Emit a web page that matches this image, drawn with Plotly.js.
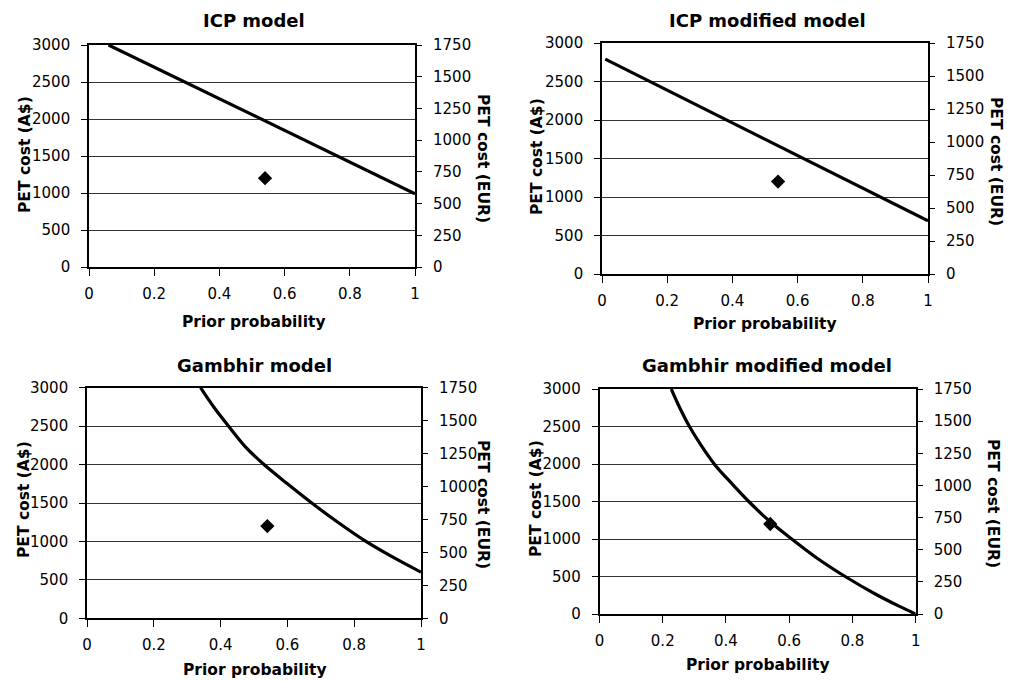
<!DOCTYPE html>
<html>
<head>
<meta charset="utf-8">
<script src="https://cdn.plot.ly/plotly-3.0.1.min.js"></script>
<style>html,body{margin:0;padding:0;background:#fff;}#chart{width:1015px;height:681px;}</style>
</head>
<body>
<div id="chart"></div>
<script>
// ---- data ----
const panelTitles = ["ICP model", "ICP modified model", "Gambhir model", "Gambhir modified model"];
const xTitle = "Prior probability";
const yLeftTitle = "PET cost (A$)";
const yRightTitle = "PET cost (EUR)";

const icpX = [0.06, 1.0];
const icpY = [3000, 990];

const icpModX = [0.01, 1.0];
const icpModY = [2790, 690];

const gambhirX = [0.34, 0.38, 0.424, 0.475, 0.53, 0.60, 0.673, 0.75, 0.835, 0.92, 1.0];
const gambhirY = [3000, 2746, 2500, 2228, 2000, 1750, 1500, 1252, 1000, 785, 600];

const gambhirModX = [0.227, 0.253, 0.2845, 0.3215, 0.364, 0.4165, 0.472, 0.538, 0.608, 0.685, 0.777, 0.875, 0.949, 1.0];
const gambhirModY = [3000, 2757, 2500, 2248, 1995, 1748, 1500, 1236, 1000, 754, 500, 260, 101, 0];

const pointX = [0.54];
const pointY = [1200];

const xTickVals = [0, 0.2, 0.4, 0.6, 0.8, 1];
const yLeftRange = [0, 3000];
const yRightRange = [0, 1750];

// ---- layout geometry (pixels) ----
const W = 1015, H = 681;
const boxes = [
  {l: 89,  r: 415,   t: 45,    b: 267},
  {l: 602, r: 928,   t: 43,    b: 274},
  {l: 87,  r: 421,   t: 387.7, b: 618.3},
  {l: 599.5, r: 915.7, t: 389, b: 614}
];
const titlePos = [[254, 20], [767, 20], [254, 366], [767, 366]];
const xTitlePos = [[254, 322], [765, 324], [255, 670], [758, 665]];
const yLTitlePos = [[25, 155], [537, 157], [24, 500], [536, 499]];
const yRTitlePos = [[483, 158], [996, 161], [483, 504], [993, 503]];

const series = [[icpX, icpY], [icpModX, icpModY], [gambhirX, gambhirY], [gambhirModX, gambhirModY]];

const tickFont = {family: "DejaVu Sans", size: 15, color: "#000"};
const boldFont = (s) => ({family: "DejaVu Sans", size: s, color: "#000", weight: "bold"});

const traces = [];
const layout = {
  width: W, height: H,
  margin: {l: 0, r: 0, t: 0, b: 0},
  paper_bgcolor: "#fff", plot_bgcolor: "#fff",
  showlegend: false,
  annotations: []
};

function fx(px) { return px / W; }
function fy(py) { return 1 - py / H; }

for (let i = 0; i < 4; i++) {
  const n = i + 1;
  const xa = n === 1 ? "x" : "x" + n;
  const ya = n === 1 ? "y" : "y" + n;
  const yr = "y" + (n + 4);
  const bx = boxes[i];

  traces.push({
    x: series[i][0], y: series[i][1], xaxis: xa, yaxis: ya,
    type: "scatter", mode: "lines",
    line: {color: "#000", width: 3.2, shape: i >= 2 ? "spline" : "linear", smoothing: 1},
    hoverinfo: "skip"
  });
  traces.push({
    x: pointX, y: pointY, xaxis: xa, yaxis: ya,
    type: "scatter", mode: "markers",
    marker: {symbol: "diamond", size: 11, color: "#000"},
    hoverinfo: "skip"
  });

  layout["xaxis" + (n === 1 ? "" : n)] = {
    domain: [fx(bx.l), fx(bx.r)],
    anchor: ya,
    range: [0, 1],
    tickvals: xTickVals,
    ticks: "outside", ticklen: 7, tickwidth: 1, tickcolor: "#000",
    ticklabelstandoff: 5,
    showgrid: false, zeroline: false,
    showline: true, mirror: true, linecolor: "#000", linewidth: 1.8,
    tickfont: tickFont,
    fixedrange: true
  };
  layout["yaxis" + (n === 1 ? "" : n)] = {
    domain: [fy(bx.b), fy(bx.t)],
    anchor: xa,
    range: yLeftRange,
    dtick: 500,
    ticks: "outside", ticklen: 6, tickwidth: 1, tickcolor: "#000",
    ticklabelstandoff: 8,
    showgrid: true, gridcolor: "#333", gridwidth: 1,
    zeroline: false,
    showline: true, mirror: true, linecolor: "#000", linewidth: 1.8,
    tickfont: tickFont,
    fixedrange: true
  };
  layout["yaxis" + (n + 4)] = {
    overlaying: ya,
    anchor: xa,
    side: "right",
    range: yRightRange,
    dtick: 250,
    ticks: "outside", ticklen: 6, tickwidth: 1, tickcolor: "#000",
    ticklabelstandoff: 8,
    showgrid: false, zeroline: false, showline: false,
    tickfont: tickFont,
    fixedrange: true
  };
  // invisible companion trace so the EUR axis is bound to this subplot
  traces.push({
    x: pointX, y: pointY.map(v => v * yRightRange[1] / yLeftRange[1]),
    xaxis: xa, yaxis: yr, type: "scatter", mode: "markers",
    marker: {opacity: 0, size: 1}, hoverinfo: "skip"
  });

  layout.annotations.push({
    text: panelTitles[i], xref: "paper", yref: "paper",
    x: fx(titlePos[i][0]), y: fy(titlePos[i][1]),
    xanchor: "center", yanchor: "middle", showarrow: false,
    font: boldFont(18)
  });
  layout.annotations.push({
    text: xTitle, xref: "paper", yref: "paper",
    x: fx(xTitlePos[i][0]), y: fy(xTitlePos[i][1]),
    xanchor: "center", yanchor: "middle", showarrow: false,
    font: boldFont(15.5)
  });
  layout.annotations.push({
    text: yLeftTitle, xref: "paper", yref: "paper",
    x: fx(yLTitlePos[i][0]), y: fy(yLTitlePos[i][1]),
    xanchor: "center", yanchor: "middle", showarrow: false,
    textangle: -90, font: boldFont(15.5)
  });
  layout.annotations.push({
    text: yRightTitle, xref: "paper", yref: "paper",
    x: fx(yRTitlePos[i][0]), y: fy(yRTitlePos[i][1]),
    xanchor: "center", yanchor: "middle", showarrow: false,
    textangle: 90, font: boldFont(15.5)
  });
}

Plotly.newPlot("chart", traces, layout, {staticPlot: true, displayModeBar: false});
</script>
</body>
</html>
